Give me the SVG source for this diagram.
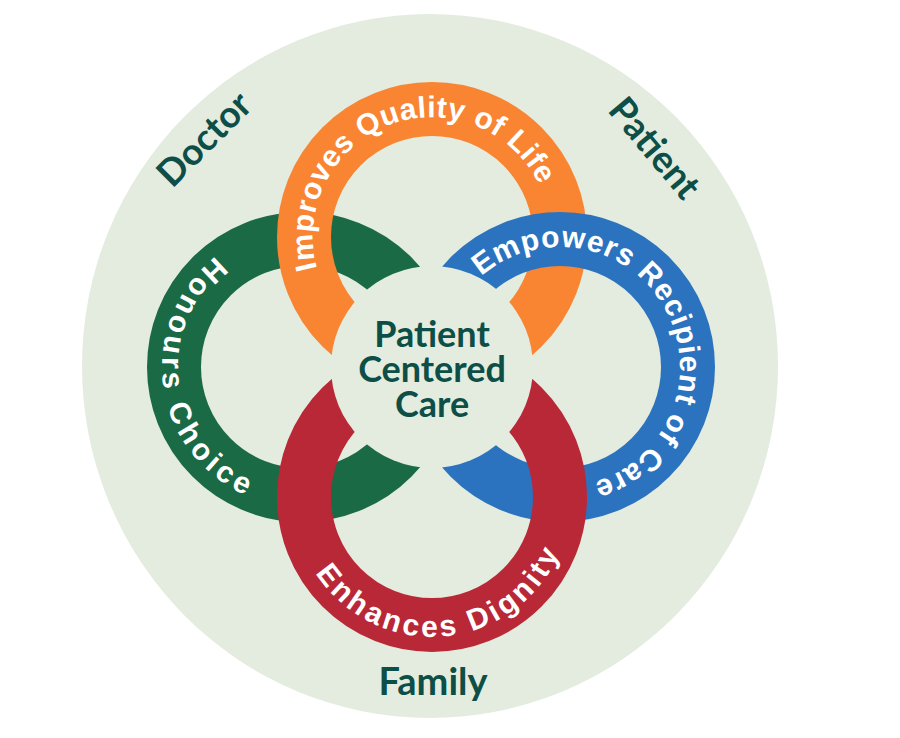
<svg xmlns="http://www.w3.org/2000/svg" width="900" height="738" viewBox="0 0 900 738">
  <style>
    .ring { fill: none; stroke-width: 54; }
    .ringtext { font-family: "Liberation Sans", Arial, sans-serif; font-weight: 700; font-size: 30px; fill: #ffffff; }
    .label { font-family: Lato, "Noto Sans", sans-serif; font-weight: 700; fill: #0d4f47; text-anchor: middle; }
    .bg { fill: #e3ecdf; }
  </style>
  <defs>
    <path id="p-orange" d="M 474.02 349.40 A 120 120 0 0 1 389.98 124.60 A 120 120 0 0 1 474.02 349.40"/>
    <path id="p-green" d="M 440.64 347.51 A 140 140 0 0 0 163.36 386.49 A 140 140 0 0 0 440.64 347.51"/>
    <path id="p-red" d="M 419.19 357.59 A 140 140 0 0 0 444.81 636.41 A 140 140 0 0 0 419.19 357.59"/>
    <path id="p-blue" d="M 454.54 424.27 A 120 120 0 0 1 665.46 309.73 A 120 120 0 0 1 454.54 424.27"/>
  </defs>
  <rect width="900" height="738" fill="#ffffff"/>
  <g id="background">
    <ellipse class="bg" cx="430" cy="366" rx="348" ry="352"/>
  </g>
  <g id="ring-green">
    <circle class="ring" cx="302" cy="367" r="128" stroke="#1b6a46"/>
  </g>
  <g id="ring-orange">
    <circle class="ring" cx="432" cy="237" r="128" stroke="#f98533"/>
  </g>
  <g id="ring-blue">
    <circle class="ring" cx="560" cy="367" r="128" stroke="#2c73bf"/>
  </g>
  <g id="ring-red">
    <circle class="ring" cx="432" cy="497" r="128" stroke="#b92837"/>
  </g>
  <g id="center">
    <circle class="bg" cx="432" cy="367" r="101"/>
    <text class="label" font-size="36" x="432" y="347">Patient</text>
    <text class="label" font-size="36" x="432" y="382">Centered</text>
    <text class="label" font-size="36" x="432" y="417">Care</text>
  </g>
  <g id="ring-labels">
    <text class="ringtext" letter-spacing="0.5"><textPath href="#p-orange" startOffset="50%" text-anchor="middle">Improves Quality of Life</textPath></text>
    <text class="ringtext" font-size="32" letter-spacing="4.4"><textPath href="#p-green" startOffset="50%" text-anchor="middle">Honours Choice</textPath></text>
    <text class="ringtext" letter-spacing="0.85"><textPath href="#p-blue" startOffset="50%" text-anchor="middle">Empowers Recipient of Care</textPath></text>
    <text class="ringtext" font-size="32" letter-spacing="3.2"><textPath href="#p-red" startOffset="50%" text-anchor="middle">Enhances Dignity</textPath></text>
  </g>
  <g id="label-doctor">
    <text class="label" font-size="37" transform="translate(204 139) rotate(-45)" x="0" y="13">Doctor</text>
  </g>
  <g id="label-patient">
    <text class="label" font-size="37" transform="translate(655 148) rotate(50)" x="0" y="13">Patient</text>
  </g>
  <g id="label-family">
    <text class="label" font-size="38" x="433" y="695">Family</text>
  </g>
</svg>
